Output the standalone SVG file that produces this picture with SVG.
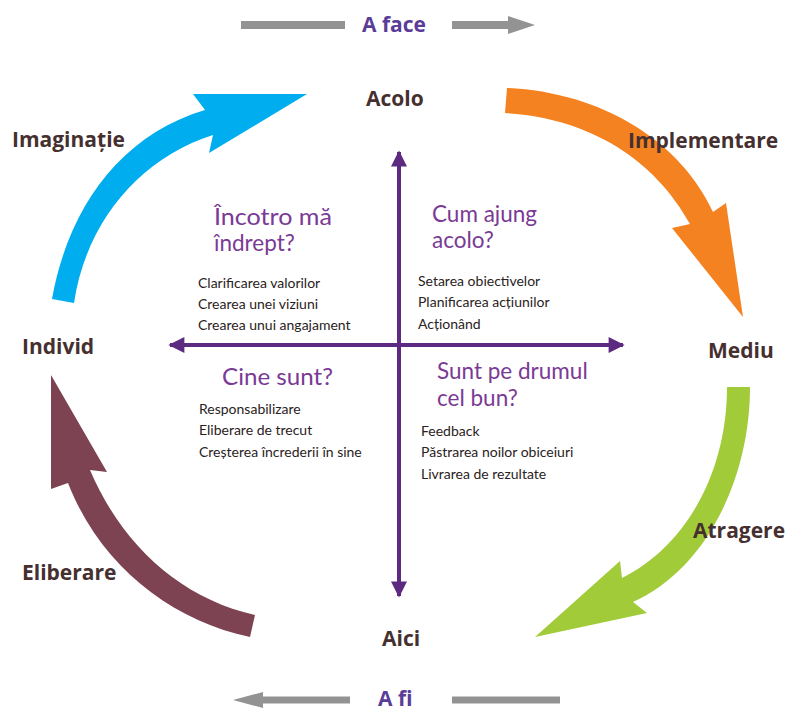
<svg xmlns="http://www.w3.org/2000/svg" width="793" height="711" viewBox="0 0 793 711">
<defs>
<style>
.lbl{font-family:"Open Sans","Liberation Sans",sans-serif;font-weight:700;font-size:21px;fill:#45302f}
.dir{font-family:"Open Sans","Liberation Sans",sans-serif;font-weight:700;font-size:21px;fill:#5b3c97}
.q{font-family:Lato,"Open Sans",sans-serif;font-size:22.5px;fill:#7a3a95}
.it{font-family:Lato,"Open Sans",sans-serif;font-size:14px;fill:#2a2222}
.axis{stroke:#5c2a80;stroke-width:4;fill:none}
.gray{fill:#939393}
</style>
<marker id="ah" viewBox="0 0 10 10" refX="9" refY="5" markerWidth="5.5" markerHeight="4" orient="auto-start-reverse" markerUnits="strokeWidth">
<path d="M0,0 L10,5 L0,10 Z" fill="#5c2a80"/>
</marker>
</defs>
<rect width="793" height="711" fill="#ffffff"/>
<g id="connectors">
<path id="arrow-imaginatie" fill="#00adee" d="M52,299 C68,209 120,135 205,110 L193,94 L307,94 L209,153 L213,135 C140,158 86,222 74,303 Z"/>
<path id="arrow-implementare" fill="#f48221" d="M507,88 C600,92 680,140 713,212 L726,203 L743,317 L672,228 L690,224 C655,160 590,118 505,113 Z"/>
<path id="arrow-atragere" fill="#a2cb3a" d="M750,387 C750,480 705,570 633,602 L647,613 L535,637 L620,561 L622,578 C688,545 727,470 727,387 Z"/>
<path id="arrow-eliberare" fill="#7e4352" d="M250,637 C170,620 100,565 68,483 L51,489 L51,375 L107,472 L90,470 C122,545 180,598 255,615 Z"/>
<line class="axis" x1="399" y1="152" x2="399" y2="596" marker-start="url(#ah)" marker-end="url(#ah)"/>
<line class="axis" x1="170" y1="345" x2="623" y2="345" marker-start="url(#ah)" marker-end="url(#ah)"/>
<rect class="gray" x="241" y="21" width="104" height="8"/>
<path class="gray" d="M452,21 L508,21 L508,16 L535,25 L508,34 L508,29 L452,29 Z"/>
<path class="gray" d="M350,696.5 L263,696.5 L263,692 L233,700 L263,708 L263,703.5 L350,703.5 Z M452,696.5 L560,696.5 L560,703.5 L452,703.5 Z"/>
</g>
<g id="node-a-face"><text class="dir" x="362" y="32">A face</text></g>
<g id="node-a-fi"><text class="dir" x="378" y="706">A fi</text></g>
<g id="node-acolo"><text class="lbl" x="366" y="106">Acolo</text></g>
<g id="node-aici"><text class="lbl" x="382" y="646">Aici</text></g>
<g id="node-individ"><text class="lbl" x="22" y="354">Individ</text></g>
<g id="node-mediu"><text class="lbl" x="708" y="358">Mediu</text></g>
<g id="node-imaginatie"><text class="lbl" x="12" y="147">Imaginație</text></g>
<g id="node-implementare"><text class="lbl" x="628" y="148">Implementare</text></g>
<g id="node-atragere"><text class="lbl" x="693" y="538">Atragere</text></g>
<g id="node-eliberare"><text class="lbl" x="22" y="580">Eliberare</text></g>
<g id="quad-tl">
<text class="q" x="214" y="225" textLength="118" lengthAdjust="spacingAndGlyphs">Încotro mă</text>
<text class="q" x="214" y="251">îndrept?</text>
<text class="it" x="198" y="288">Clarificarea valorilor</text>
<text class="it" x="198" y="309">Crearea unei viziuni</text>
<text class="it" x="198" y="330">Crearea unui angajament</text>
</g>
<g id="quad-tr">
<text class="q" x="432" y="222">Cum ajung</text>
<text class="q" x="432" y="248">acolo?</text>
<text class="it" x="418" y="286">Setarea obiectivelor</text>
<text class="it" x="418" y="307">Planificarea acțiunilor</text>
<text class="it" x="418" y="329">Acționând</text>
</g>
<g id="quad-bl">
<text class="q" x="222" y="385" textLength="111" lengthAdjust="spacingAndGlyphs">Cine sunt?</text>
<text class="it" x="199" y="414">Responsabilizare</text>
<text class="it" x="199" y="435">Eliberare de trecut</text>
<text class="it" x="199" y="457">Creșterea încrederii în sine</text>
</g>
<g id="quad-br">
<text class="q" x="437" y="379">Sunt pe drumul</text>
<text class="q" x="437" y="406">cel bun?</text>
<text class="it" x="421" y="436">Feedback</text>
<text class="it" x="421" y="457">Păstrarea noilor obiceiuri</text>
<text class="it" x="421" y="479">Livrarea de rezultate</text>
</g>
</svg>
